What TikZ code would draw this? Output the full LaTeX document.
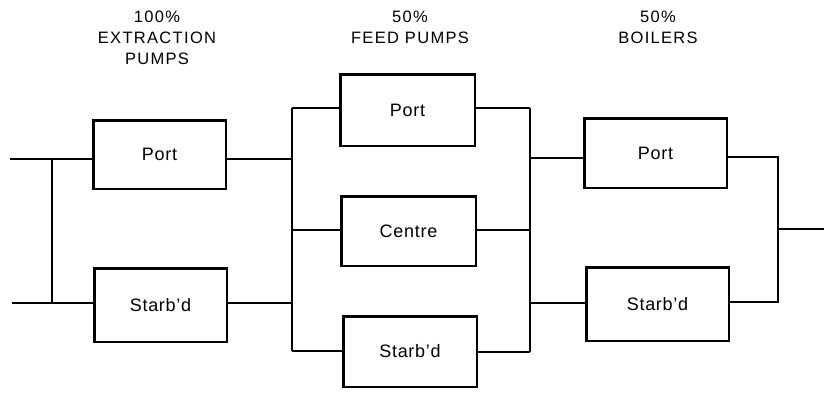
\documentclass[tikz,border=0pt]{standalone}
\usepackage{fontspec}
\setmainfont{Liberation Sans}
\begin{document}
\begin{tikzpicture}[x=1pt,y=-1pt,
  unit/.style={draw, line width=2.5pt, inner sep=0pt,
    font=\fontsize{18}{20}\selectfont\addfontfeature{LetterSpace=4}},
  link/.style={line width=1.6pt},
  heading/.style={align=center, inner sep=0pt, anchor=north,
    font=\fontsize{16.5}{21}\selectfont\addfontfeature{LetterSpace=8}}]
\useasboundingbox (0,0) rectangle (824,392);

% column headings
\node[heading] (h1) at (157,11) {100\%\\EXTRACTION\\PUMPS};
\node[heading] (h2) at (410,11) {50\%\\FEED PUMPS};
\node[heading] (h3) at (658,11) {50\%\\BOILERS};

% extraction pumps
\node[unit, minimum width=132.5pt, minimum height=68.5pt] (ep) at (159.5,154.5) {Port};
\node[unit, minimum width=132.5pt, minimum height=73.5pt] (es) at (160.5,305) {Starb’d};
% feed pumps
\node[unit, minimum width=134.5pt, minimum height=71.5pt] (fp) at (407.5,110) {Port};
\node[unit, minimum width=134.5pt, minimum height=69.5pt] (fc) at (408.5,231) {Centre};
\node[unit, minimum width=133.5pt, minimum height=70.5pt] (fs) at (410,351.5) {Starb’d};
% boilers
\node[unit, minimum width=142.5pt, minimum height=69.5pt] (bp) at (655.5,153) {Port};
\node[unit, minimum width=142.5pt, minimum height=73.5pt] (bs) at (657.5,304) {Starb’d};

% junction points
\coordinate (inA) at (10,159);
\coordinate (inB) at (12,303);
\coordinate (jA) at (52,159);
\coordinate (jB) at (52,303);
\coordinate (fl1) at (292,108);
\coordinate (fl2) at (292,230);
\coordinate (fl3) at (292,351);
\coordinate (fr1) at (530,108);
\coordinate (fr2) at (530,230);
\coordinate (fr3) at (530,352);
\coordinate (bi1) at (530,158);
\coordinate (bi2) at (530,303);
\coordinate (bo1) at (778,157);
\coordinate (bo2) at (778,302);
\coordinate (oj) at (778,229);
\coordinate (out) at (824,229);

% inlet to extraction pumps
\draw[link] (inA) -- (inA -| ep.west);
\draw[link] (inB) -- (inB -| es.west);
\draw[link] (jA) -- (jB);

% extraction pumps to feed pumps
\draw[link] (inA -| ep.east) -- (inA -| fl1);
\draw[link] (inB -| es.east) -- (inB -| fl1);
\draw[link] (fl1) -- (fl3);
\draw[link] (fl1) -- (fl1 -| fp.west);
\draw[link] (fl2) -- (fl2 -| fc.west);
\draw[link] (fl3) -- (fl3 -| fs.west);

% feed pumps to boilers
\draw[link] (fr1 -| fp.east) -- (fr1);
\draw[link] (fr2 -| fc.east) -- (fr2);
\draw[link] (fr3 -| fs.east) -- (fr3);
\draw[link] (fr1) -- (fr3);
\draw[link] (bi1) -- (bi1 -| bp.west);
\draw[link] (bi2) -- (bi2 -| bs.west);

% boiler outlets
\draw[link] (bo1 -| bp.east) -- (bo1) -- (bo2) -- (bo2 -| bs.east);
\draw[link] (oj) -- (out);
\end{tikzpicture}
\end{document}
